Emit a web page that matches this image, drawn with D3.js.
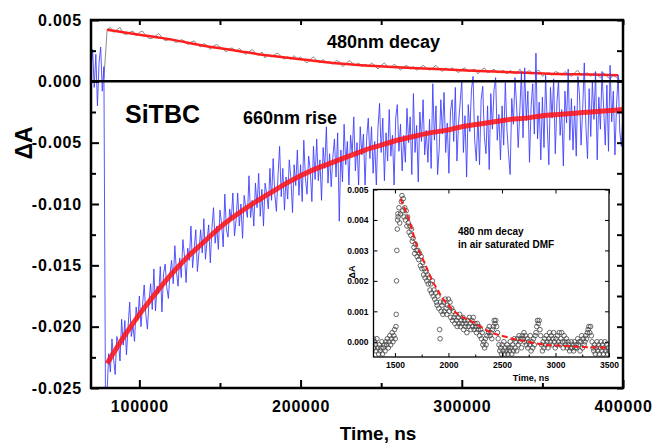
<!DOCTYPE html>
<html>
<head>
<meta charset="utf-8">
<script src="https://cdn.jsdelivr.net/npm/d3@7"></script>
<style>
  body { margin: 0; background: #fff; }
  text { font-family: Arial, "Liberation Sans", sans-serif; font-weight: bold; }
</style>
</head>
<body>
<div class="canvas"></div>
<script>
// ---- data ----
// 660nm trace (blue), sampled every 1000 ns from 70000 ns
const blueStart = 70000, blueStep = 1000;
const blueValues = [
  0.0010, 0.0026, -0.0005, 0.0022, -0.0020, 0.0015, 0.0028, -0.0008, 0.0012,
  -0.0268,
  -0.0252, -0.0222, -0.0237, -0.0210, -0.0226, -0.0239, -0.0208, -0.0213, -0.0228, -0.0194,
  -0.0215, -0.0195, -0.0223, -0.0200, -0.0180, -0.0208, -0.0199, -0.0212, -0.0184, -0.0195,
  -0.0175, -0.0200, -0.0182, -0.0166, -0.0190, -0.0202, -0.0179, -0.0165, -0.0186, -0.0153,
  -0.0187, -0.0167, -0.0173, -0.0151, -0.0188, -0.0157, -0.0149, -0.0168, -0.0177, -0.0157,
  -0.0146, -0.0165, -0.0134, -0.0155, -0.0167, -0.0144, -0.0160, -0.0129, -0.0143, -0.0164,
  -0.0136, -0.0146, -0.0118, -0.0152, -0.0137, -0.0121, -0.0155, -0.0139, -0.0121, -0.0140,
  -0.0112, -0.0145, -0.0130, -0.0117, -0.0148, -0.0120, -0.0103, -0.0132, -0.0118, -0.0137,
  -0.0105, -0.0116, -0.0135, -0.0092, -0.0121, -0.0127, -0.0104, -0.0113, -0.0091, -0.0126,
  -0.0113, -0.0091, -0.0118, -0.0100, -0.0128, -0.0093, -0.0103, -0.0111, -0.0077, -0.0111,
  -0.0097, -0.0118, -0.0083, -0.0103, -0.0075, -0.0110, -0.0088, -0.0118, -0.0083, -0.0092,
  -0.0104, -0.0071, -0.0097, -0.0063, -0.0092, -0.0106, -0.0077, -0.0053, -0.0094, -0.0071,
  -0.0105, -0.0078, -0.0096, -0.0064, -0.0079, -0.0107, -0.0068, -0.0085, -0.0056, -0.0093,
  -0.0068, -0.0098, -0.0048, -0.0079, -0.0092, -0.0061, -0.0072, -0.0098, -0.0053, -0.0080,
  -0.0047, -0.0081, -0.0064, -0.0097, -0.0054, -0.0071, -0.0037, -0.0083, -0.0059, -0.0086,
  -0.0062, -0.0047, -0.0078, -0.0042, -0.0114, -0.0056, -0.0082, -0.0035, -0.0068, -0.0049,
  -0.0085, -0.0044, -0.0059, -0.0029, -0.0073, -0.0050, -0.0085, -0.0037, -0.0060, -0.0043,
  -0.0085, -0.0046, -0.0030, -0.0063, -0.0037, -0.0075, -0.0049, -0.0086, -0.0038, -0.0018,
  -0.0058, -0.0030, -0.0081, -0.0042, -0.0065, -0.0023, -0.0061, -0.0044, -0.0085, -0.0030,
  -0.0019, -0.0057, -0.0035, -0.0073, -0.0044, -0.0066, -0.0022, -0.0050, -0.0029, -0.0076,
  -0.0010, -0.0058, -0.0036, -0.0082, -0.0025, -0.0049, -0.0015, -0.0060, -0.0040, -0.0066,
  -0.0031, -0.0071, -0.0002, -0.0048, -0.0020, -0.0076, -0.0055, -0.0015, -0.0043, -0.0009,
  -0.0058, -0.0034, -0.0075, -0.0024, -0.0015, -0.0049, -0.0005, -0.0065, -0.0034, -0.0017,
  0.0001, -0.0058, -0.0028, -0.0078, -0.0019, -0.0041, -0.0007, 0.0004, -0.0048, -0.0065,
  -0.0028, -0.0068, -0.0015, -0.0004, -0.0045, -0.0059, -0.0020, -0.0072, -0.0010, -0.0039,
  -0.0007, 0.0003, -0.0048, -0.0027, -0.0064, -0.0020, -0.0052, -0.0001, -0.0039, -0.0059,
  -0.0076, -0.0014, -0.0035, 0.0003, -0.0020, -0.0054, -0.0024, 0.0008, -0.0046, 0.0011,
  -0.0032, -0.0008, -0.0066, -0.0021, -0.0002, -0.0043, 0.0023, -0.0047, -0.0017, -0.0064,
  -0.0013, -0.0054, 0.0005, -0.0035, -0.0068, -0.0005, -0.0030, 0.0002, -0.0059, -0.0018,
  0.0001, -0.0044, -0.0023, -0.0069, -0.0008, -0.0034, 0.0010, -0.0048, -0.0014, -0.0056,
  -0.0020, -0.0061, 0.0004, -0.0011, -0.0052, -0.0022, 0.0015, -0.0037, -0.0063, -0.0006,
  -0.0045, 0.0000, -0.0031, 0.0008, -0.0064, -0.0013, -0.0039, 0.0008, -0.0022, -0.0052,
  -0.0003, -0.0057, 0.0013, -0.0033, -0.0008, -0.0060, -0.0019, 0.0005, -0.0041, -0.0053,
  -0.0027
];

// 480nm trace (grey), sampled every 2000 ns from 78000 ns
const greyStart = 78000, greyStep = 2000;
const greyValues = [
  0.0002,
  0.0042, 0.0044, 0.0040, 0.0042, 0.0044, 0.0039, 0.0038, 0.0040, 0.0041, 0.0037,
  0.0040, 0.0041, 0.0037, 0.0035, 0.0035, 0.0037, 0.0039, 0.0036, 0.0033, 0.0034,
  0.0035, 0.0032, 0.0032, 0.0034, 0.0033, 0.0030, 0.0032, 0.0033, 0.0030, 0.0028,
  0.0031, 0.0029, 0.0026, 0.0029, 0.0030, 0.0028, 0.0026, 0.0024, 0.0027, 0.0027,
  0.0024, 0.0027, 0.0024, 0.0022, 0.0024, 0.0026, 0.0023, 0.0021, 0.0024, 0.0019,
  0.0022, 0.0020, 0.0022, 0.0023, 0.0020, 0.0018, 0.0020, 0.0018, 0.0021, 0.0018,
  0.0020, 0.0017, 0.0015, 0.0018, 0.0020, 0.0017, 0.0015, 0.0018, 0.0015, 0.0016,
  0.0014, 0.0017, 0.0016, 0.0012, 0.0014, 0.0017, 0.0015, 0.0013, 0.0015, 0.0012,
  0.0014, 0.0012, 0.0015, 0.0013, 0.0010, 0.0013, 0.0015, 0.0012, 0.0011, 0.0014,
  0.0012, 0.0009, 0.0012, 0.0013, 0.0010, 0.0012, 0.0009, 0.0011, 0.0013, 0.0011,
  0.0009, 0.0011, 0.0013, 0.0010, 0.0008, 0.0011, 0.0009, 0.0011, 0.0009, 0.0007,
  0.0010, 0.0011, 0.0008, 0.0009, 0.0010, 0.0006, 0.0009, 0.0011, 0.0007, 0.0008,
  0.0010, 0.0007, 0.0008, 0.0009, 0.0006, 0.0009, 0.0007, 0.0006, 0.0010, 0.0006,
  0.0007, 0.0009, 0.0006, 0.0008, 0.0009, 0.0004, 0.0006, 0.0007, 0.0005, 0.0008,
  0.0007, 0.0005, 0.0008, 0.0006, 0.0004, 0.0007, 0.0009, 0.0005, 0.0006, 0.0007,
  0.0004, 0.0007, 0.0005, 0.0003, 0.0007, 0.0004, 0.0002, 0.0005, 0.0003, 0.0001
];

// fitted curves (red)
const riseFitTime = [80000, 90000, 100000, 110000, 120000, 130000, 140000, 150000, 160000, 170000,
  180000, 190000, 200000, 210000, 220000, 230000, 240000, 250000, 260000, 270000, 280000,
  290000, 300000, 310000, 320000, 330000, 340000, 350000, 360000, 370000, 380000, 390000, 400000];
const riseFitValue = [-0.0230, -0.0209, -0.0190, -0.0173, -0.0157, -0.0143, -0.0131, -0.0119,
  -0.0109, -0.0100, -0.0092, -0.0084, -0.0077, -0.0071, -0.0066, -0.0061, -0.0056, -0.0052,
  -0.0048, -0.0045, -0.0042, -0.0040, -0.0037, -0.0035, -0.0033, -0.0031, -0.0030, -0.0028,
  -0.0027, -0.0026, -0.0025, -0.0024, -0.0023];
const decayFitTime = [80000, 100000, 120000, 140000, 160000, 180000, 200000, 220000, 240000,
  260000, 280000, 300000, 320000, 340000, 360000, 380000, 397000];
const decayFitValue = [0.0042, 0.0038, 0.0034, 0.0029, 0.0025, 0.0021, 0.0018, 0.0015, 0.0013,
  0.00115, 0.00103, 0.0009, 0.0008, 0.0007, 0.0006, 0.00055, 0.0005];

// inset: 480 nm decay in air saturated DMF, [time ns, dA]
const insetPoints = [
  [1300,0.0001],[1305,-0.0002],[1310,0.0000],[1318,-0.0001],[1325,-0.0003],[1332,0.0001],[1340,-0.0002],
  [1348,-0.0004],[1355,-0.0001],[1362,-0.0003],[1370,-0.0002],[1378,0.0000],[1385,-0.0004],[1392,-0.0002],
  [1400,-0.0001],[1408,-0.0003],[1415,0.0000],[1422,-0.0001],[1430,0.0001],[1438,-0.0002],[1445,0.0000],
  [1452,0.0002],[1460,-0.0001],[1468,0.0001],[1475,0.0003],[1482,0.0000],[1490,0.0002],[1497,0.0004],
  [1503,0.0001],[1510,0.0005],[1512,0.0009],[1515,0.0020],[1518,0.0030],[1522,0.0037],[1525,0.0040],
  [1528,0.0042],[1530,0.0041],[1538,0.0044],[1545,0.0039],[1552,0.0042],[1560,0.0046],[1566,0.0048],
  [1572,0.0043],[1578,0.0047],[1585,0.0041],[1592,0.0044],[1598,0.0040],[1605,0.0043],[1612,0.0038],
  [1618,0.0041],[1625,0.0039],[1632,0.0036],[1640,0.0038],[1648,0.0035],[1655,0.0037],[1662,0.0033],
  [1670,0.0034],[1678,0.0031],[1685,0.0029],[1692,0.0032],[1700,0.0030],[1708,0.0028],[1715,0.0030],
  [1722,0.0027],[1730,0.0029],[1738,0.0025],[1745,0.0028],[1752,0.0024],[1760,0.0026],[1768,0.0022],
  [1775,0.0024],[1782,0.0021],[1790,0.0023],[1798,0.0020],[1805,0.0022],[1812,0.0019],[1820,0.0021],
  [1828,0.0017],[1835,0.0019],[1842,0.0016],[1850,0.0020],[1858,0.0015],[1865,0.0017],[1872,0.0014],
  [1880,0.0016],[1888,0.0013],[1895,0.0012],[1902,0.0015],[1910,0.0011],[1918,0.0004],[1922,0.0001],
  [1925,0.0013],[1932,0.0010],[1940,0.0012],[1948,0.0009],[1955,0.0013],[1962,0.0010],[1970,0.0014],
  [1978,0.0011],[1985,0.0009],[1992,0.0012],[2000,0.0014],[2008,0.0010],[2015,0.0013],[2022,0.0008],
  [2030,0.0011],[2038,0.0007],[2045,0.0010],[2052,0.0008],[2060,0.0006],[2068,0.0009],[2075,0.0007],
  [2082,0.0005],[2090,0.0008],[2098,0.0006],[2105,0.0009],[2112,0.0005],[2120,0.0007],[2128,0.0006],
  [2135,0.0008],[2142,0.0004],[2150,0.0007],[2158,0.0005],[2165,0.0006],[2172,0.0003],[2180,0.0007],
  [2188,0.0005],[2195,0.0008],[2202,0.0006],[2210,0.0004],[2218,0.0007],[2225,0.0005],[2232,0.0008],
  [2240,0.0004],[2248,0.0006],[2255,0.0005],[2262,0.0003],[2270,0.0006],[2278,0.0004],[2285,0.0005],
  [2292,0.0002],[2300,0.0004],[2308,0.0001],[2315,0.0003],[2322,-0.0001],[2330,0.0000],[2338,-0.0002],
  [2345,0.0001],[2352,-0.0001],[2360,0.0002],[2368,0.0004],[2375,0.0003],[2382,0.0005],[2390,0.0002],
  [2398,0.0003],[2405,0.0001],[2412,0.0004],[2420,0.0005],[2428,0.0007],[2435,0.0006],[2442,0.0007],
  [2450,0.0005],[2458,0.0003],[2465,0.0001],[2472,-0.0001],[2480,-0.0003],[2488,-0.0002],[2495,-0.0004],
  [2502,-0.0001],[2510,-0.0003],[2518,0.0000],[2525,-0.0004],[2532,-0.0002],[2540,-0.0003],[2548,-0.0001],
  [2555,-0.0004],[2562,-0.0002],[2570,-0.0003],[2578,0.0000],[2585,-0.0002],[2592,-0.0004],[2600,-0.0001],
  [2608,-0.0003],[2615,0.0001],[2622,-0.0002],[2630,0.0000],[2638,-0.0003],[2645,0.0001],[2652,-0.0001],
  [2660,0.0002],[2668,0.0000],[2675,0.0001],[2682,-0.0002],[2690,0.0002],[2698,0.0001],[2705,0.0003],
  [2712,0.0000],[2720,0.0002],[2728,-0.0001],[2735,0.0001],[2742,-0.0002],[2750,0.0000],[2758,-0.0001],
  [2765,0.0002],[2772,-0.0003],[2780,0.0000],[2788,-0.0002],[2795,0.0001],[2802,-0.0001],[2810,0.0002],
  [2818,0.0003],[2825,0.0005],[2832,0.0007],[2840,0.0006],[2848,0.0007],[2855,0.0004],[2862,0.0002],
  [2870,-0.0001],[2878,-0.0003],[2885,0.0000],[2892,-0.0002],[2900,0.0001],[2908,-0.0001],[2915,0.0002],
  [2922,0.0000],[2930,-0.0002],[2938,0.0001],[2945,0.0003],[2952,0.0000],[2960,0.0002],[2968,-0.0001],
  [2975,0.0001],[2982,0.0003],[2990,0.0000],[2998,-0.0002],[3005,0.0001],[3012,-0.0001],[3020,0.0002],
  [3028,0.0000],[3035,0.0003],[3042,-0.0001],[3050,0.0001],[3058,0.0003],[3065,0.0000],[3072,-0.0002],
  [3080,0.0002],[3088,0.0000],[3095,-0.0001],[3102,0.0001],[3110,-0.0002],[3118,0.0000],[3125,-0.0001],
  [3132,-0.0003],[3140,-0.0002],[3148,0.0000],[3155,-0.0002],[3162,-0.0001],[3170,-0.0003],[3178,0.0000],
  [3185,-0.0002],[3192,-0.0001],[3200,-0.0002],[3208,0.0001],[3215,-0.0001],[3222,0.0000],[3230,-0.0003],
  [3238,0.0000],[3245,0.0002],[3252,-0.0002],[3260,0.0001],[3268,-0.0001],[3275,0.0000],[3282,0.0002],
  [3290,0.0001],[3298,0.0003],[3305,0.0004],[3312,0.0005],[3320,0.0003],[3328,0.0005],[3335,0.0002],
  [3342,0.0000],[3350,-0.0002],[3358,-0.0003],[3365,-0.0001],[3372,-0.0004],[3380,-0.0002],[3388,0.0000],
  [3395,-0.0003],[3402,-0.0001],[3410,-0.0004],[3418,-0.0002],[3425,0.0000],[3432,-0.0003],[3440,-0.0001],
  [3448,-0.0004],[3455,-0.0002],[3462,0.0000],[3470,-0.0003],[3478,-0.0001],[3485,-0.0004],[3492,-0.0002],
  [3500,-0.0003]
];
const insetFitTime = [1550, 1600, 1650, 1700, 1750, 1800, 1850, 1900, 1950, 2000, 2100, 2200,
  2300, 2400, 2500, 2600, 2700, 2800, 2900, 3000, 3200, 3500];
const insetFitValue = [0.0047, 0.0043, 0.0038, 0.0032, 0.0028, 0.0024, 0.0020, 0.0017, 0.0014,
  0.0012, 0.00087, 0.0007, 0.0005, 0.0003, 0.0002, 0.0001, 0.00003, -0.00004, -0.0001,
  -0.00012, -0.00016, -0.0002];

// tick values
const xMajor = [100000, 200000, 300000, 400000];
const xMinor = [150000, 250000, 350000];
const yMajor = [0.005, 0, -0.005, -0.010, -0.015, -0.020, -0.025];
const yMinor = [0.0025, -0.0025, -0.0075, -0.0125, -0.0175, -0.0225];
const insetXMajor = [1500, 2000, 2500, 3000, 3500];
const insetXMinor = [1750, 2250, 2750, 3250];
const insetYMajor = [0, 0.001, 0.002, 0.003, 0.004, 0.005];

// ---- layout ----
const width = 654, height = 446;
const plot = { left: 91, right: 623, top: 20, bottom: 388 };
const inset = { left: 373.5, right: 609, top: 189.5, bottom: 357 };

const svg = d3.select('.canvas').append('svg')
  .attr('width', width)
  .attr('height', height)
  .style('display', 'block');
svg.append('rect').attr('width', width).attr('height', height).attr('fill', '#fff');

const x = d3.scaleLinear().domain([70000, 400000]).range([plot.left, plot.right]);
const y = d3.scaleLinear().domain([-0.025, 0.005]).range([plot.bottom, plot.top]);
const xi = d3.scaleLinear().domain([1300, 3500]).range([inset.left, inset.right]);
const yi = d3.scaleLinear().domain([-0.0005, 0.005]).range([inset.bottom, inset.top]);

svg.append('clipPath').attr('id', 'clipMain').append('rect')
  .attr('x', plot.left).attr('y', plot.top)
  .attr('width', plot.right - plot.left).attr('height', plot.bottom - plot.top);
svg.append('clipPath').attr('id', 'clipInset').append('rect')
  .attr('x', inset.left).attr('y', inset.top)
  .attr('width', inset.right - inset.left).attr('height', inset.bottom - inset.top);

// ---- main traces ----
const main = svg.append('g').attr('clip-path', 'url(#clipMain)');
const line = d3.line().x(d => x(d[0])).y(d => y(d[1]));
const smooth = d3.line().x(d => x(d[0])).y(d => y(d[1])).curve(d3.curveMonotoneX);

const greyData = greyValues.map((v, i) => [greyStart + i * greyStep, v]);
const blueData = blueValues.map((v, i) => [blueStart + i * blueStep, v]);
const decayFit = decayFitTime.map((t, i) => [t, decayFitValue[i]]);
const riseFit = riseFitTime.map((t, i) => [t, riseFitValue[i]]);

main.append('path').datum(greyData).attr('d', line)
  .attr('fill', 'none').attr('stroke', '#8c8c8c').attr('stroke-width', 1);
main.append('path').datum(decayFit).attr('d', smooth)
  .attr('fill', 'none').attr('stroke', '#ff1e1e').attr('stroke-width', 2.5);
main.append('path').datum(blueData).attr('d', line)
  .attr('fill', 'none').attr('stroke', '#3a3aff').attr('stroke-width', 1).attr('stroke-opacity', 0.85);
main.append('path').datum(riseFit).attr('d', smooth)
  .attr('fill', 'none').attr('stroke', '#ff1010').attr('stroke-width', 5).attr('stroke-opacity', 0.85);

// zero divider
svg.append('line')
  .attr('x1', plot.left).attr('x2', plot.right)
  .attr('y1', y(0)).attr('y2', y(0))
  .attr('stroke', '#000').attr('stroke-width', 2.5);

// labels inside main plot
svg.append('text').attr('x', 125).attr('y', 123).attr('font-size', 25).text('SiTBC');
svg.append('text').attr('x', 243).attr('y', 124).attr('font-size', 18).text('660nm rise');
svg.append('text').attr('x', 327).attr('y', 48).attr('font-size', 18).text('480nm decay');

// ---- inset ----
svg.append('rect')
  .attr('x', 343).attr('y', 185).attr('width', 269).attr('height', 201)
  .attr('fill', '#fff');

const insetG = svg.append('g').attr('clip-path', 'url(#clipInset)');
insetG.selectAll('circle').data(insetPoints).enter().append('circle')
  .attr('cx', d => xi(d[0]))
  .attr('cy', d => yi(d[1]))
  .attr('r', 2.3)
  .attr('fill', 'none')
  .attr('stroke', '#444')
  .attr('stroke-width', 0.8);
const insetFit = insetFitTime.map((t, i) => [t, insetFitValue[i]]);
insetG.append('path').datum(insetFit)
  .attr('d', d3.line().x(d => xi(d[0])).y(d => yi(d[1])).curve(d3.curveMonotoneX))
  .attr('fill', 'none').attr('stroke', '#ff1a1a').attr('stroke-width', 2)
  .attr('stroke-dasharray', '6,3');

svg.append('text').attr('x', 458).attr('y', 235).attr('font-size', 10).text('480 nm decay');
svg.append('text').attr('x', 458).attr('y', 248).attr('font-size', 10).text('in air saturated DMF');

function styleAxis(g, size, sw) {
  g.select('.domain').remove();
  g.attr('font-family', null).attr('font-size', null);
  g.selectAll('line').attr('stroke', '#000').attr('stroke-width', sw);
  g.selectAll('text').attr('font-size', size).attr('fill', '#000');
}

// inset axes (ticks inward)
styleAxis(svg.append('g').attr('transform', `translate(0,${inset.bottom})`)
  .call(d3.axisBottom(xi).tickValues(insetXMajor).tickSizeInner(-4).tickSizeOuter(0).tickPadding(5)
    .tickFormat(d3.format('d'))), 8.5, 1);
styleAxis(svg.append('g').attr('transform', `translate(0,${inset.bottom})`)
  .call(d3.axisBottom(xi).tickValues(insetXMinor).tickSizeInner(-2.5).tickSizeOuter(0).tickFormat('')), 8.5, 1);
styleAxis(svg.append('g').attr('transform', `translate(0,${inset.top})`)
  .call(d3.axisTop(xi).tickValues(insetXMajor).tickSizeInner(-4).tickSizeOuter(0).tickFormat('')), 8.5, 1);
styleAxis(svg.append('g').attr('transform', `translate(${inset.left},0)`)
  .call(d3.axisLeft(yi).tickValues(insetYMajor).tickSizeInner(-4).tickSizeOuter(0).tickPadding(5)
    .tickFormat(d => d.toFixed(3))), 8.5, 1);
styleAxis(svg.append('g').attr('transform', `translate(${inset.right},0)`)
  .call(d3.axisRight(yi).tickValues(insetYMajor).tickSizeInner(-4).tickSizeOuter(0).tickFormat('')), 8.5, 1);
svg.append('rect')
  .attr('x', inset.left).attr('y', inset.top)
  .attr('width', inset.right - inset.left).attr('height', inset.bottom - inset.top)
  .attr('fill', 'none').attr('stroke', '#000').attr('stroke-width', 1.3);
svg.append('text').attr('x', 531).attr('y', 381).attr('font-size', 9)
  .attr('text-anchor', 'middle').text('Time, ns');
svg.append('text').attr('transform', 'translate(355,272) rotate(-90)').attr('font-size', 9)
  .attr('text-anchor', 'middle').text('ΔA');

// ---- main axes (ticks inward, Origin style) ----
const yAxisG = svg.append('g').attr('transform', `translate(${plot.left},0)`)
  .call(d3.axisLeft(y).tickValues(yMajor).tickSizeInner(-8).tickSizeOuter(0).tickPadding(9)
    .tickFormat(d => d.toFixed(3)));
styleAxis(yAxisG, 16, 2);
yAxisG.selectAll('text').attr('letter-spacing', 0.8);
styleAxis(svg.append('g').attr('transform', `translate(${plot.left},0)`)
  .call(d3.axisLeft(y).tickValues(yMinor).tickSizeInner(-5).tickSizeOuter(0).tickFormat('')), 16, 2);
styleAxis(svg.append('g').attr('transform', `translate(${plot.right},0)`)
  .call(d3.axisRight(y).tickValues(yMajor.concat(yMinor)).tickSizeInner(-6).tickSizeOuter(0).tickFormat('')), 16, 2);

const xAxisG = svg.append('g').attr('transform', `translate(0,${plot.bottom})`)
  .call(d3.axisBottom(x).tickValues(xMajor).tickSizeInner(-8).tickSizeOuter(0).tickPadding(13)
    .tickFormat(d3.format('d')));
styleAxis(xAxisG, 16, 2);
xAxisG.selectAll('text').attr('letter-spacing', 0.8);
styleAxis(svg.append('g').attr('transform', `translate(0,${plot.bottom})`)
  .call(d3.axisBottom(x).tickValues(xMinor).tickSizeInner(-5).tickSizeOuter(0).tickFormat('')), 16, 2);
styleAxis(svg.append('g').attr('transform', `translate(0,${plot.top})`)
  .call(d3.axisTop(x).tickValues(xMajor.concat(xMinor)).tickSizeInner(-5).tickSizeOuter(0).tickFormat('')), 16, 2);

svg.append('rect')
  .attr('x', plot.left).attr('y', plot.top)
  .attr('width', plot.right - plot.left).attr('height', plot.bottom - plot.top)
  .attr('fill', 'none').attr('stroke', '#000').attr('stroke-width', 2.5);

// axis titles
svg.append('text').attr('x', 378).attr('y', 440).attr('font-size', 19)
  .attr('text-anchor', 'middle').text('Time, ns');
svg.append('text').attr('transform', 'translate(32,143) rotate(-90)').attr('font-size', 23)
  .attr('text-anchor', 'middle').text('ΔA');
</script>
</body>
</html>
